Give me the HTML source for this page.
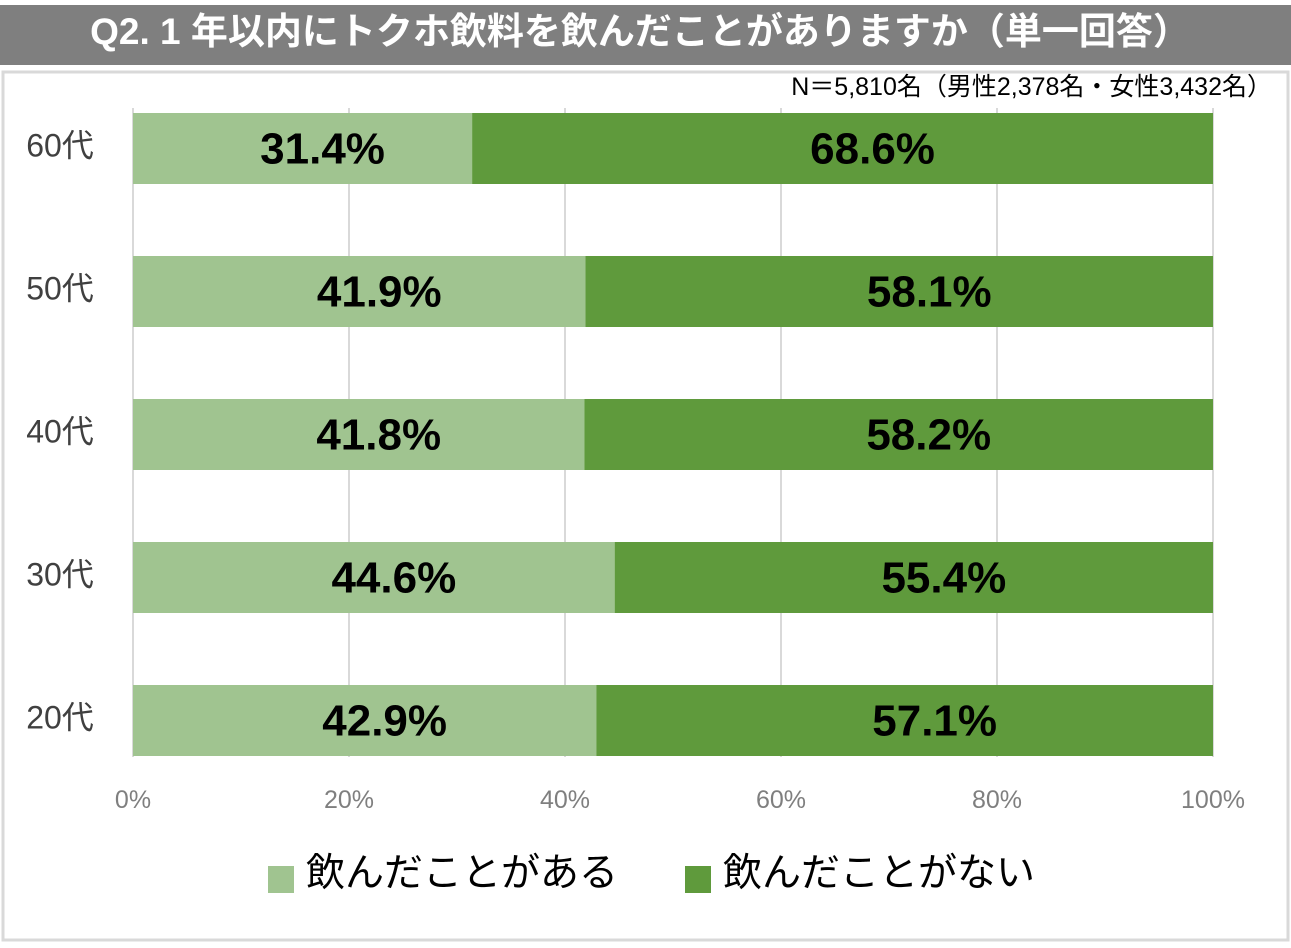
<!DOCTYPE html>
<html><head><meta charset="utf-8"><style>
body{margin:0;background:#fff;width:1291px;height:943px;overflow:hidden;font-family:"Liberation Sans","Noto Sans CJK JP",sans-serif}
</style></head><body>
<svg width="1291" height="943" xmlns="http://www.w3.org/2000/svg">
<rect x="0" y="5" width="1291" height="60" fill="#7f7f7f"/>
<text x="640" y="44" text-anchor="middle" font-size="37" font-weight="bold" fill="#fff" font-family="Liberation Sans, Noto Sans CJK JP, sans-serif">Q2. 1 年以内にトクホ飲料を飲んだことがありますか（単一回答）</text>
<rect x="3" y="72" width="1285" height="868" fill="#fff" stroke="#d9d9d9" stroke-width="3"/>
<text x="1272" y="95" text-anchor="end" font-size="25" fill="#000" font-family="Liberation Sans, Noto Sans CJK JP, sans-serif">N＝5,810名（男性2,378名・女性3,432名）</text>
<g id="grid"></g><g id="bars"></g><g id="labels"></g>
<rect x="268" y="866" width="26" height="27" fill="#a0c490"/>
<text x="306" y="886" font-size="39" fill="#000" font-family="Liberation Sans, Noto Sans CJK JP, sans-serif">飲んだことがある</text>
<rect x="685" y="866" width="26" height="27" fill="#5f9a3c"/>
<text x="723" y="886" font-size="39" fill="#000" font-family="Liberation Sans, Noto Sans CJK JP, sans-serif">飲んだことがない</text>
</svg>
<script>
const categories=["60代","50代","40代","30代","20代"];
const drankValues=[31.4,41.9,41.8,44.6,42.9];
const notDrankValues=[68.6,58.1,58.2,55.4,57.1];
const ticks=[0,20,40,60,80,100];
const NS="http://www.w3.org/2000/svg";
const x0=133,x1=1213,yTop=113,step=143,bh=71;
const xs=v=>x0+(x1-x0)*v/100;
const ys=i=>yTop+i*step;
function mk(tag,attrs,parent){const e=document.createElementNS(NS,tag);for(const k in attrs)e.setAttribute(k,attrs[k]);parent.appendChild(e);return e;}
const grid=document.getElementById('grid'),bars=document.getElementById('bars'),labels=document.getElementById('labels');
const F="Liberation Sans, Noto Sans CJK JP, sans-serif";
ticks.forEach(t=>{
 const l=mk('line',{x1:xs(t),x2:xs(t),y1:108,y2:757,stroke:'#d9d9d9','stroke-width':2},grid);
 
 
 const tx=mk('text',{x:xs(t),y:808,'text-anchor':'middle','font-size':25,fill:'#7f7f7f','font-family':F},labels);
 tx.textContent=t+'%';
 
 
});
categories.forEach((c,i)=>{
 const y=ys(i),a=drankValues[i],b=notDrankValues[i];
 const r1=mk('rect',{x:xs(0),y:y,width:xs(a)-xs(0),height:bh,fill:'#a0c490'},bars);
 
 
 const r2=mk('rect',{x:xs(a),y:y,width:xs(a+b)-xs(a),height:bh,fill:'#5f9a3c'},bars);
 
 
 const t1=mk('text',{x:(xs(0)+xs(a))/2+20,y:y+bh/2+15,'text-anchor':'middle','font-size':44,'font-weight':'bold',fill:'#000','font-family':F},labels);
 t1.textContent=a.toFixed(1)+'%';
 
 
 const t2=mk('text',{x:(xs(a)+xs(a+b))/2+30,y:y+bh/2+15,'text-anchor':'middle','font-size':44,'font-weight':'bold',fill:'#000','font-family':F},labels);
 t2.textContent=b.toFixed(1)+'%';
 
 
 const cl=mk('text',{x:60,y:y+bh/2+8,'text-anchor':'middle','font-size':32,fill:'#404040','font-family':F},labels);
 cl.textContent=c;
 
 
});
</script>
</body></html>
